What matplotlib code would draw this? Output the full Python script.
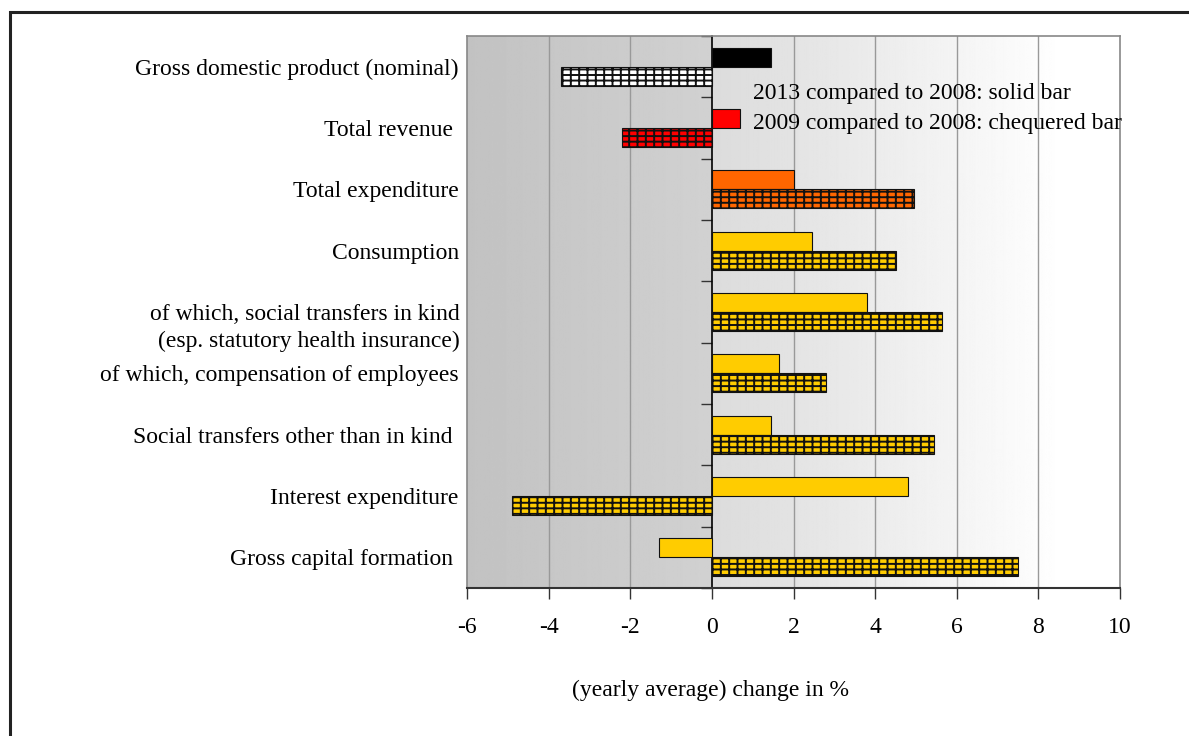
import numpy as np
import matplotlib.pyplot as plt
from matplotlib.patches import Rectangle

plt.rcParams['font.family'] = ['Liberation Serif', 'DejaVu Serif']
plt.rcParams['hatch.linewidth'] = 1.4

categories = [
    "Gross domestic product (nominal)",
    "Total revenue ",
    "Total expenditure",
    "Consumption",
    "of which, social transfers in kind\n(esp. statutory health insurance)",
    "of which, compensation of employees",
    "Social transfers other than in kind ",
    "Interest expenditure",
    "Gross capital formation ",
]
# 2013 compared to 2008 (solid) and 2009 compared to 2008 (chequered)
solid_2013 = [1.45, 0.7, 2.0, 2.45, 3.8, 1.65, 1.45, 4.8, -1.3]
cheq_2009 = [-3.7, -2.2, 4.95, 4.5, 5.65, 2.8, 5.45, -4.9, 7.5]
colors = ["#000000", "#ff0000", "#ff6600", "#ffcc00", "#ffcc00",
          "#ffcc00", "#ffcc00", "#ffcc00", "#ffcc00"]
cheq_colors = ["#ffffff", "#ff0000", "#ff6600", "#ffcc00", "#ffcc00",
               "#ffcc00", "#ffcc00", "#ffcc00", "#ffcc00"]
xticks = [-6, -4, -2, 0, 2, 4, 6, 8, 10]
FS = 17

fig = plt.figure(figsize=(11.89, 7.36), dpi=100)
ax = fig.add_axes([467 / 1189, 1 - 588 / 736, 653 / 1189, 552 / 736])

# outer frame (runs off the right and bottom edges)
fig.patches.append(Rectangle((10 / 1189, -0.1), 1.2, 1 - 12 / 736 + 0.1,
                             transform=fig.transFigure, fill=False,
                             edgecolor="#222222", linewidth=2.2))

# background gradient of the plot area
xs = np.linspace(-6, 10, 800)
shade = np.where(xs < 0, 0.76 + (xs + 6) / 6 * 0.06,
                 np.clip(0.86 + xs / 8.6 * 0.14, 0, 1))
ax.imshow(np.tile(shade, (2, 1)), cmap="gray", vmin=0, vmax=1,
          extent=[-6, 10, 8.5, -0.5], aspect="auto", zorder=0)

for x in xticks[1:-1]:
    if x != 0:
        ax.axvline(x, color="#999999", linewidth=1, zorder=1)

y = np.arange(len(categories))
h = 0.31
ax.barh(y - h / 2, solid_2013, height=h, color=colors, edgecolor="#111111",
        linewidth=0.8, zorder=3)
ax.barh(y + h / 2, cheq_2009, height=h, color=cheq_colors, edgecolor="#111111",
        linewidth=0.8, hatch="++-", zorder=3)

ax.text(1.0, 0.43, "2013 compared to 2008: solid bar", fontsize=FS,
        va="center", ha="left", zorder=4)
ax.text(1.0, 0.92, "2009 compared to 2008: chequered bar", fontsize=FS,
        va="center", ha="left", zorder=4)

ax.set_xlim(-6, 10)
ax.set_ylim(8.5, -0.5)
ax.set_xticks(xticks)
ax.set_xticklabels([str(v) for v in xticks], fontsize=FS)
ax.tick_params(axis="x", direction="out", length=8, width=1,
               color="#333333", pad=13)

# y labels; the two-line one hangs its first line on the category centre
ax.set_yticks(y)
ax.set_yticklabels([c if "\n" not in c else "" for c in categories],
                   fontsize=FS)
ax.tick_params(axis="y", length=0, pad=6)
for i, c in enumerate(categories):
    if "\n" in c:
        ax.annotate(c, xy=(0, i), xycoords=("axes fraction", "data"),
                    xytext=(-7, 8), textcoords="offset pixels",
                    ha="right", va="top", fontsize=FS, linespacing=1.35)

for side in ["top", "left", "right"]:
    ax.spines[side].set_color("#888888")
    ax.spines[side].set_linewidth(1.2)
ax.spines["bottom"].set_color("#333333")
ax.spines["bottom"].set_linewidth(1.5)

# zero line with category ticks
zero_ax = ax.secondary_yaxis(6 / 16)
zero_ax.set_yticks(np.arange(-0.5, len(categories) + 0.5, 1))
zero_ax.set_yticklabels([])
zero_ax.tick_params(direction="out", length=8, width=1, color="#333333")
zero_ax.spines["left"].set_color("#000000")
zero_ax.spines["left"].set_linewidth(1.2)
zero_ax.spines["left"].set_zorder(5)

fig.text(711 / 1189, 1 - 690 / 736, "(yearly average) change in %",
         fontsize=FS, ha="center", va="center")

fig.savefig("out.png", dpi=100)
